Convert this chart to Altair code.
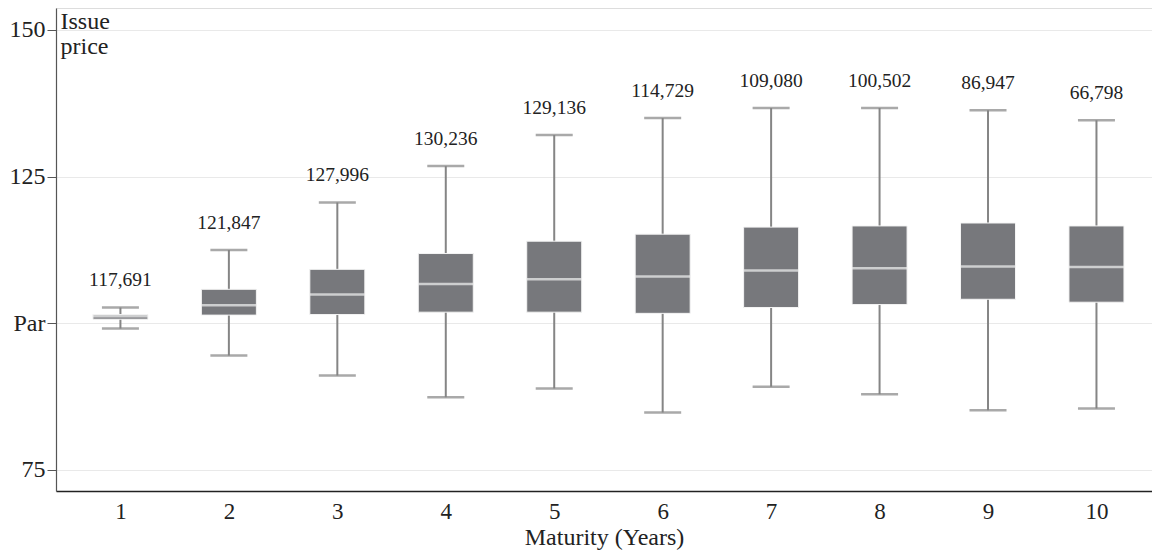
import altair as alt
import pandas as pd

maturity = [1, 2, 3, 4, 5, 6, 7, 8, 9, 10]
counts = ["117,691", "121,847", "127,996", "130,236", "129,136",
          "114,729", "109,080", "100,502", "86,947", "66,798"]
whisker_low = [99.1, 94.5, 91.1, 87.4, 88.9, 84.8, 89.2, 87.9, 85.2, 85.5]
q1 = [100.7, 101.4, 101.5, 101.9, 101.9, 101.7, 102.7, 103.2, 104.1, 103.6]
median = [101.2, 103.1, 104.9, 106.7, 107.5, 108.0, 109.0, 109.4, 109.7, 109.6]
q3 = [101.5, 105.8, 109.2, 111.9, 114.0, 115.2, 116.4, 116.6, 117.1, 116.6]
whisker_high = [102.7, 112.5, 120.6, 126.8, 132.1, 135.0, 136.7, 136.7, 136.3, 134.6]

df = pd.DataFrame({
    "m": maturity, "count": counts, "lo": whisker_low, "q1": q1,
    "med": median, "q3": q3, "hi": whisker_high,
})

FONT = "Liberation Serif"
x_scale = alt.Scale(domain=[0.452, 10.466], nice=False, zero=False)
y_scale = alt.Scale(domain=[71.42, 153.75], nice=False, zero=False)

x_enc = alt.X("m:Q", scale=x_scale, axis=alt.Axis(
    values=maturity, title="Maturity (Years)", grid=False, ticks=False,
    domainColor="#222222", domainWidth=1.5, labelFontSize=23, labelFont=FONT,
    labelColor="#222222", labelPadding=9, titleFont=FONT, titleFontSize=24,
    titleFontWeight="normal", titleColor="#222222", titlePadding=2,
    format="d"))

y_axis = alt.Axis(
    values=[75, 100, 125, 150], title=["Issue", "price"],
    labelExpr="datum.value == 100 ? 'Par' : datum.label",
    grid=True, gridColor="#e9e9e9", gridWidth=1,
    domainColor="#555555", domainWidth=1.2, tickColor="#555555", tickSize=9,
    labelFontSize=24, labelFont=FONT, labelColor="#222222", labelPadding=2,
    titleFont=FONT, titleFontSize=24, titleFontWeight="normal",
    titleColor="#222222", titleAngle=0, titleAlign="left",
    titleBaseline="top", titleX=4, titleY=1, titleLineHeight=25)

base = alt.Chart(df)

whisk = base.mark_rule(color="#858585", strokeWidth=2).encode(
    x=x_enc, y=alt.Y("lo:Q", scale=y_scale, axis=y_axis), y2="hi:Q")
cap_hi = base.mark_tick(color="#858585", size=37, thickness=2.5,
                        orient="horizontal").encode(x="m:Q", y="hi:Q")
cap_lo = base.mark_tick(color="#858585", size=37, thickness=2.5,
                        orient="horizontal").encode(x="m:Q", y="lo:Q")
box = base.mark_bar(color="#77787c", size=55, stroke="#f4f4f4",
                    strokeWidth=1).encode(x="m:Q", y="q1:Q", y2="q3:Q")
med = base.mark_tick(color="#f2f2f2", size=55, thickness=2.5,
                     orient="horizontal").encode(x="m:Q", y="med:Q")
lab = base.mark_text(font=FONT, fontSize=19.5, color="#222222",
                     baseline="middle", dy=-27).encode(
    x="m:Q", y="hi:Q", text="count:N")

chart = alt.layer(whisk, cap_hi, cap_lo, box, med, lab).properties(
    width=1096, height=483,
    autosize=alt.AutoSizeParams(type="none"),
    padding={"left": 48, "top": 0, "right": 0, "bottom": 66},
).configure_view(stroke=None).configure(background="white")

chart.save("out.html", embed_options={"renderer": "svg", "actions": False})
